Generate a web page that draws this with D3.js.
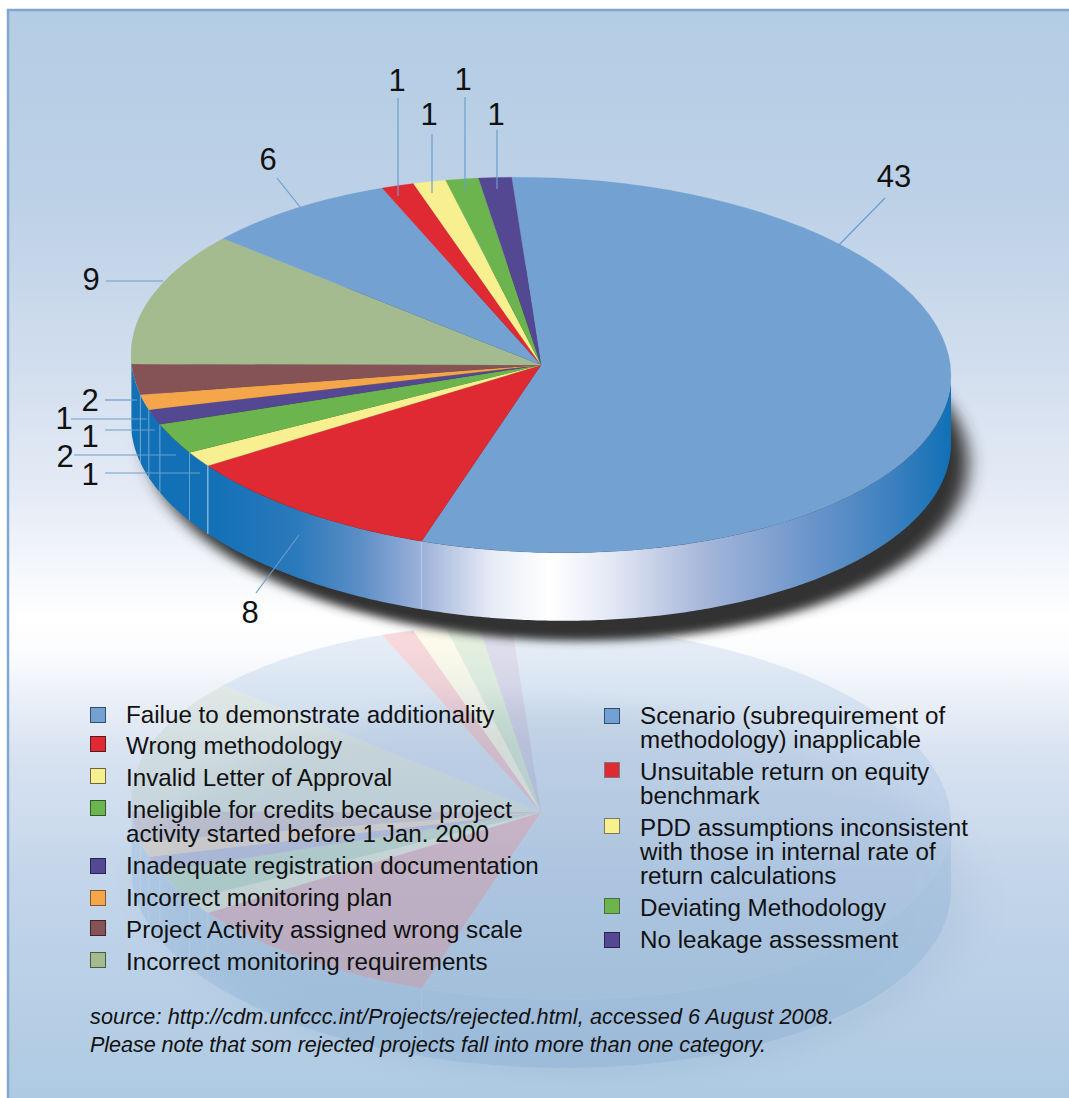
<!DOCTYPE html>
<html>
<head>
<meta charset="utf-8">
<script src="https://d3js.org/d3.v7.min.js"></script>
<style>
    html, body { margin: 0; padding: 0; background: #fff; }
    svg { display: block; }
    text { font-family: "Liberation Sans", Arial, sans-serif; fill: #111; }
</style>
</head>
<body>
<div id="chart"></div>
<script>
// rejected project counts, as printed on the chart, clockwise from the big slice
const counts = [43, 8, 1, 2, 1, 1, 2, 9, 6, 1, 1, 1, 1]

const categories = [
    "Failue to demonstrate additionality",
    "Wrong methodology",
    "Invalid Letter of Approval",
    "Ineligible for credits because project|activity started before 1 Jan. 2000",
    "Inadequate registration documentation",
    "Incorrect monitoring plan",
    "Project Activity assigned wrong scale",
    "Incorrect monitoring requirements",
    "Scenario (subrequirement of|methodology) inapplicable",
    "Unsuitable return on equity|benchmark",
    "PDD assumptions inconsistent|with those in internal rate of|return calculations",
    "Deviating Methodology",
    "No leakage assessment"
]

const colors = ["#73a2d2", "#df2a34", "#f8ef90", "#6cb54e", "#534891", "#f5a54a", "#855356",
    "#a3bb8f", "#73a2d2", "#df2a34", "#f8ef90", "#6cb54e", "#534891"]

const swatchBorders = ["#2f4f70", "#5a1a20", "#6a6640", "#2f5a2a", "#2a2450", "#7a5a30", "#3d2628",
    "#4a5a40", "#2f4f70", "#7a7a7a", "#7a7a60", "#4a6a40", "#2a2450"]

const notes = [
    "source: http://cdm.unfccc.int/Projects/rejected.html, accessed 6 August 2008.",
    "Please note that som rejected projects fall into more than one category."
]

const width = 1069
const height = 1098
const cx = 541, cy = 365, rx = 410, ry = 187.5, depth = 68
const tilt = 0.0256 // the disc is drawn slightly sheared, right side lower
const mirrorShift = 447

const svg = d3.select("#chart").append("svg")
    .attr("width", width)
    .attr("height", height)

const defs = svg.append("defs")

function addGradient(id, attrs, stops) {
    const g = defs.append("linearGradient").attr("id", id).attr("gradientUnits", "userSpaceOnUse")
    Object.entries(attrs).forEach(([k, v]) => g.attr(k, v))
    stops.forEach(s => g.append("stop").attr("offset", s[0]).attr("stop-color", s[1]))
}

addGradient("bg", { x1: 0, y1: 10, x2: 0, y2: 1098 }, [
    [0, "#b3cde4"], [0.18, "#bdd1e7"], [0.33, "#d2deee"], [0.45, "#e6ecf6"], [0.56, "#ffffff"],
    [0.59, "#fbfcfe"], [0.68, "#d9e3f1"], [0.8, "#c3d5ea"], [1, "#aecae2"]
])
addGradient("wall", { x1: -rx, y1: 0, x2: rx, y2: 0 }, [
    [0, "#1170b6"], [0.09, "#1170b6"], [0.2, "#2a79bb"], [0.28, "#5c8ec6"], [0.355, "#9db2da"],
    [0.44, "#e6ebf6"], [0.51, "#ffffff"], [0.58, "#e6eaf5"], [0.7, "#a5b6da"], [0.82, "#6f97cb"],
    [0.93, "#3b80bf"], [1, "#1170b6"]
])

defs.append("filter").attr("id", "blur").attr("x", "-10%").attr("y", "-20%").attr("width", "120%").attr("height", "140%")
    .append("feGaussianBlur").attr("stdDeviation", 9)
defs.append("filter").attr("id", "softBlur").attr("x", "-20%").attr("y", "-30%").attr("width", "140%").attr("height", "160%")
    .append("feGaussianBlur").attr("stdDeviation", 22)

// background panel
svg.append("rect").attr("x", 8).attr("y", 10).attr("width", width - 8).attr("height", height - 10)
    .attr("fill", "url(#bg)")
svg.append("path").attr("d", `M8,${height}V10H${width}`).attr("fill", "none")
    .attr("stroke", "#7fa7cf").attr("stroke-width", 2.5)

const pie = d3.pie().sort(null).value(d => d)
    .startAngle(-4.1 * Math.PI / 180)
    .endAngle(355.9 * Math.PI / 180)
const arcs = pie(counts)
const arc = d3.arc().innerRadius(0).outerRadius(rx)
const discMatrix = `matrix(1,${tilt},0,${ry / rx},0,0)`

// only the front half of the rim shows
const frontStart = Math.PI / 2, frontEnd = 3 * Math.PI / 2
const rimX = a => rx * Math.sin(a)
const rimY = a => tilt * rx * Math.sin(a) - ry * Math.cos(a)
const wallArea = d3.area().x(rimX).y0(rimY).y1(a => rimY(a) + depth)

function drawPie(group, wallFill, lineOpacity) {
    const front = d3.range(frontStart, frontEnd, 0.01).concat(frontEnd)
    group.append("path").attr("d", wallArea(front)).attr("fill", wallFill)

    const edges = arcs.map(d => d.endAngle).filter(a => a > frontStart && a < frontEnd - 0.01)
    group.selectAll(".edge").data(edges).enter().append("line")
        .attr("class", "edge")
        .attr("x1", rimX).attr("x2", rimX)
        .attr("y1", rimY).attr("y2", a => rimY(a) + depth)
        .attr("stroke", "#fff").attr("stroke-width", 1)
        .attr("stroke-opacity", (a, i) => lineOpacity[i] || 0.35)

    group.append("g").attr("transform", discMatrix)
        .selectAll("path").data(arcs).enter().append("path")
        .attr("d", arc)
        .attr("fill", (d, i) => colors[i])
        .attr("stroke", (d, i) => colors[i]).attr("stroke-width", 0.3)
}

// faint mirror image below the pie
svg.append("g").attr("transform", `translate(${cx + 20},${cy + mirrorShift + depth + 10})`)
    .append("path").attr("d", arc({ startAngle: 0, endAngle: 2 * Math.PI }))
    .attr("transform", discMatrix)
    .attr("fill", "#4a6a90").attr("opacity", 0.08)
    .attr("filter", "url(#softBlur)")
const mirror = svg.append("g").attr("transform", `translate(${cx},${cy + mirrorShift})`).attr("opacity", 0.17)
drawPie(mirror, "#5f97cc", [])

// drop shadow
svg.append("g").attr("transform", `translate(${cx + 17},${cy + depth + 20})`)
    .append("path").attr("d", arc({ startAngle: 0, endAngle: 2 * Math.PI }))
    .attr("transform", discMatrix)
    .attr("fill", "#333")
    .attr("filter", "url(#blur)")

const main = svg.append("g").attr("transform", `translate(${cx},${cy})`)
drawPie(main, "url(#wall)", [0.3, 0.7, 0.35, 0.4, 0.4, 0.4])

// value labels with their leader lines, same order as counts
const labelSpots = [
    { tx: 894, ty: 176, l: [885, 198, 838, 246] },
    { tx: 250, ty: 612, l: [256, 593, 299, 535] },
    { tx: 90, ty: 474, l: [105, 473, 200, 473] },
    { tx: 65, ty: 456, l: [74, 455, 176, 455] },
    { tx: 90, ty: 436, l: [105, 430, 155, 430] },
    { tx: 64, ty: 418, l: [71, 419, 147, 419] },
    { tx: 90, ty: 400, l: [105, 400, 137, 400] },
    { tx: 91, ty: 279, l: [106, 281, 163, 281] },
    { tx: 268, ty: 159, l: [277, 178, 300, 207] },
    { tx: 397, ty: 80, l: [398, 98, 398, 196] },
    { tx: 429, ty: 114, l: [432, 134, 432, 193] },
    { tx: 463, ty: 79, l: [465, 97, 465, 190] },
    { tx: 496, ty: 114, l: [497, 130, 497, 189] }
]

const labels = svg.append("g")
labels.selectAll("line").data(labelSpots).enter().append("line")
    .attr("x1", d => d.l[0]).attr("y1", d => d.l[1])
    .attr("x2", d => d.l[2]).attr("y2", d => d.l[3])
    .attr("stroke", "#6c9dcb").attr("stroke-width", 1.2)
labels.selectAll("text").data(counts).enter().append("text")
    .attr("x", (d, i) => labelSpots[i].tx)
    .attr("y", (d, i) => labelSpots[i].ty)
    .attr("dy", "0.36em")
    .attr("text-anchor", "middle")
    .style("font-size", "31px")
    .text(d => d)

// legend, first eight entries on the left and the rest on the right
const legendRows = [
    { x: 90, tx: 126, swatchY: 707, baseline: 723 },
    { x: 90, tx: 126, swatchY: 736, baseline: 754 },
    { x: 90, tx: 126, swatchY: 768, baseline: 786 },
    { x: 90, tx: 126, swatchY: 800, baseline: 818 },
    { x: 90, tx: 126, swatchY: 858, baseline: 874 },
    { x: 90, tx: 126, swatchY: 890, baseline: 906 },
    { x: 90, tx: 126, swatchY: 920, baseline: 938 },
    { x: 90, tx: 126, swatchY: 952, baseline: 970 },
    { x: 604, tx: 640, swatchY: 708, baseline: 724 },
    { x: 604, tx: 640, swatchY: 762, baseline: 780 },
    { x: 604, tx: 640, swatchY: 818, baseline: 836 },
    { x: 604, tx: 640, swatchY: 898, baseline: 916 },
    { x: 604, tx: 640, swatchY: 932, baseline: 948 }
]

const legend = svg.append("g")
legend.selectAll("rect").data(categories).enter().append("rect")
    .attr("x", (d, i) => legendRows[i].x + 0.5)
    .attr("y", (d, i) => legendRows[i].swatchY + 0.5)
    .attr("width", 15).attr("height", 15)
    .attr("fill", (d, i) => colors[i])
    .attr("stroke", (d, i) => swatchBorders[i])

legend.selectAll("text").data(categories).enter().append("text")
    .attr("y", (d, i) => legendRows[i].baseline)
    .style("font-size", "24.2px")
    .each(function (d, i) {
        d3.select(this).selectAll("tspan").data(d.split("|")).enter().append("tspan")
            .attr("x", legendRows[i].tx)
            .attr("dy", (t, j) => j ? 24 : 0)
            .text(t => t)
    })

// the two source lines run slightly wider/narrower than this font, so fit them
const noteLengths = [744, 676]
svg.append("g").selectAll("text").data(notes).enter().append("text")
    .attr("x", 90)
    .attr("y", (d, i) => 1024 + i * 28)
    .attr("textLength", (d, i) => noteLengths[i])
    .attr("lengthAdjust", "spacing")
    .style("font-size", "21.65px")
    .style("font-style", "italic")
    .text(d => d)
</script>
</body>
</html>
